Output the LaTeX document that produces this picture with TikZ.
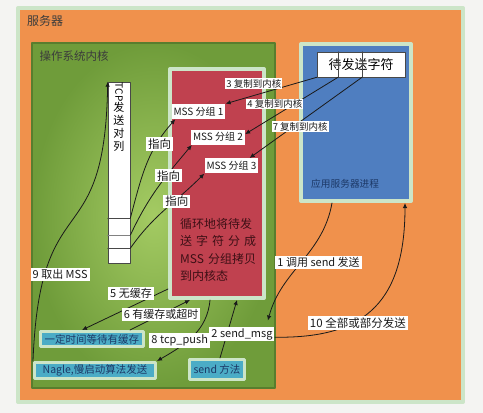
\documentclass[tikz,border=0pt]{standalone}
\usepackage{fontspec}
\setmainfont{Noto Sans CJK SC}
\usepackage{xcolor}
\usepackage{tikz}
\usetikzlibrary{arrows.meta,positioning}
\definecolor{pagebg}{HTML}{F4F4F2}
\definecolor{ink}{HTML}{1A1A1A}
\definecolor{mint}{HTML}{CCE5C8}
\definecolor{servorange}{HTML}{F0914C}
\definecolor{leafdark}{HTML}{6F9C3A}
\definecolor{leaflight}{HTML}{A4CB63}
\definecolor{brick}{HTML}{C0414F}
\definecolor{brickink}{HTML}{3E1016}
\definecolor{procblue}{HTML}{4F7EC0}
\definecolor{navy}{HTML}{1C3866}
\definecolor{aqua}{HTML}{4BACC6}
\tikzset{
  server diagram/.style={
    x=1pt, y=1pt,
    font=\fontsize{11}{13}\selectfont,
    >={Latex[length=5pt,width=4.5pt]},
    line cap=round,
    line join=round
  },
  framebox/.style={
    draw=mint,
    line width=4pt,
    inner sep=0pt
  },
  serverbox/.style={framebox, fill=servorange},
  kernelbox/.style={
    draw=leafdark!80!black,
    line width=1.2pt,
    inner color=leaflight,
    outer color=leafdark
  },
  mssbox/.style={framebox, fill=brick},
  procbox/.style={framebox, fill=procblue},
  cellbox/.style={
    draw=ink!80,
    line width=0.6pt,
    fill=white,
    inner sep=0pt
  },
  aquabox/.style={
    framebox,
    line width=3pt,
    fill=aqua,
    text=navy,
    font=\fontsize{10.5}{12}\selectfont
  },
  boxtitle/.style={inner sep=0pt, text=ink!85},
  notetag/.style={fill=white, text=ink, inner xsep=2pt, inner ysep=1.5pt},
  copytag/.style={notetag, inner sep=1pt, font=\fontsize{9.5}{11}\selectfont},
  msstag/.style={notetag, inner ysep=3pt, font=\fontsize{10}{12}\selectfont},
  flowarrow/.style={->, draw=ink, line width=0.8pt},
  slotline/.style={draw=ink!80, line width=0.6pt}
}
\begin{document}
\begin{tikzpicture}[server diagram]
\path[fill=pagebg, use as bounding box] (0,0) rectangle (483,-413);

% boxes
\node[serverbox, minimum width=445pt, minimum height=394pt] (server) at (240.5,-205) {};
\node[boxtitle, font=\fontsize{12}{14}\selectfont, below right=9pt and 11pt of server.north west] (servertitle) {服务器};
\node[kernelbox, minimum width=243pt, minimum height=345pt] (kernel) at (153.5,-215.5) {};
\node[boxtitle, font=\fontsize{11.5}{13}\selectfont, below right=8pt and 8pt of kernel.north west] (kerneltitle) {操作系统内核};
\node[mssbox, minimum width=94pt, minimum height=229pt] (copier) at (217,-183.5) {};
\node[procbox, minimum width=110pt, minimum height=157pt] (proc) at (356,-122.5) {};
\node[boxtitle, text=navy, font=\fontsize{9.7}{11}\selectfont, above right=14pt and 12pt of proc.south west] (proctitle) {应用服务器进程};
\node[cellbox, minimum width=88pt, minimum height=25pt, font=\fontsize{13}{15}\selectfont] (chars) at (361,-64.5) {待发送字符};
\coordinate (cut1) at ([xshift=-23pt]chars.south);
\coordinate (cut2) at ([xshift=1pt]chars.south);
\draw[slotline] (cut1) -- (cut1 |- chars.north);
\draw[slotline] (cut2) -- (cut2 |- chars.north);

% send queue
\node[cellbox, minimum width=22pt, minimum height=181pt] (queue) at (119,-172.5) {};
\node[inner sep=0pt, align=center, below=1pt of queue.north] (queuetext) {\rotatebox{-90}{\fontsize{10}{12}\selectfont TCP}\\发\\送\\对\\列};
\coordinate (slot1) at ([yshift=45pt]queue.south east);
\coordinate (slot2) at ([yshift=28pt]queue.south east);
\coordinate (slot3) at ([yshift=15pt]queue.south east);
\draw[slotline] (slot1) -- (slot1 -| queue.west);
\draw[slotline, draw=ink!55, line width=1.2pt] (slot2) -- (slot2 -| queue.west);
\draw[slotline] (slot3) -- (slot3 -| queue.west);

% MSS segments
\node[msstag] (mss1) at (198.5,-111.5) {MSS 分组 1};
\node[msstag, below=10pt of mss1, xshift=19.5pt] (mss2) {MSS 分组 2};
\node[msstag, below=13pt of mss2, xshift=13.5pt] (mss3) {MSS 分组 3};
\node[inner sep=0pt, text width=80pt, align=left, text=brickink, font=\fontsize{12}{17.5}\selectfont, anchor=north west] (copytext) at (180,-218) {循环地将待发\\\makebox[72pt][s]{送 字 符 分 成}\\\makebox[72pt][s]{MSS 分组拷贝}\\到内核态};

\node[aquabox, minimum width=103pt, minimum height=15pt] (wait) at (92,-339) {一定时间等待有缓存};
\node[aquabox, minimum width=121pt, minimum height=16pt] (nagle) at (95,-370.5) {Nagle,慢启动算法发送};
\node[aquabox, minimum width=55pt, minimum height=20pt] (sendcall) at (217,-369.5) {send 方法};

% copy into kernel
\draw[flowarrow] (chars.south west) -- node[copytag, pos=.69, yshift=12pt] (copy3) {3 复制到内核} (mss1.north east);
\draw[flowarrow] (cut1) -- node[copytag, pos=.68, yshift=12pt] (copy4) {4 复制到内核} ([yshift=3pt]mss2.east);
\draw[flowarrow] (cut2) -- node[copytag, pos=.55, yshift=-5pt] (copy7) {7 复制到内核} ([xshift=-9pt]mss3.north east);

% queue pointers
\draw[flowarrow] (slot1) to[out=75, in=228] node[notetag, pos=.73, xshift=3pt, font=\fontsize{11.5}{13}\selectfont] (point1) {指向} ([xshift=4pt]mss1.south west);
\draw[flowarrow] (slot2) to[out=65, in=230] node[notetag, pos=.65, xshift=2pt, font=\fontsize{11.5}{13}\selectfont] (point2) {指向} ([xshift=1pt]mss2.south west);
\draw[flowarrow] (slot3) to[out=55, in=225] node[notetag, pos=.62, xshift=3pt, font=\fontsize{11.5}{13}\selectfont] (point3) {指向} (mss3.south west);

\draw[flowarrow] (nagle.north west) .. controls +(7,181) and +(-3,-178) .. node[notetag, pos=.2, xshift=17pt, yshift=5pt] (take) {9 取出 MSS} (queue.north west);

% send path
\draw[flowarrow] ([yshift=11pt]copier.south west) -- node[notetag, pos=.43, yshift=13.5pt] (nobuf) {5 无缓存} ([xshift=-10pt]wait.north);
\draw[flowarrow] ([xshift=-15pt]wait.north east) -- node[notetag, pos=.52] (hasbuf) {6 有缓存或超时} ([xshift=-27pt]copier.south);
\draw[flowarrow] ([xshift=-7pt]copier.south) to[out=265, in=30] node[notetag, pos=.5, xshift=-13pt, yshift=-4pt] (push) {8 tcp\_push} (nagle.north east);
\draw[flowarrow] ([xshift=3pt]sendcall.north) -- node[notetag, pos=.41, xshift=15pt] (sendmsg) {2 send\_msg} ([xshift=20pt]copier.south);
\draw[flowarrow] ([xshift=-24pt]proc.south) to[out=260, in=75] node[notetag, pos=.5, xshift=17pt] (call) {1 调用 send 发送} ([xshift=-7pt, yshift=6pt]sendmsg.north east);
\draw[flowarrow] ([yshift=-3pt]sendmsg.east) .. controls +(82,-1) and +(0,-107) .. node[notetag, pos=.38, xshift=5pt, font=\fontsize{11.5}{13}\selectfont] (result) {10 全部或部分发送} ([xshift=49pt]proc.south);
\end{tikzpicture}
\end{document}
